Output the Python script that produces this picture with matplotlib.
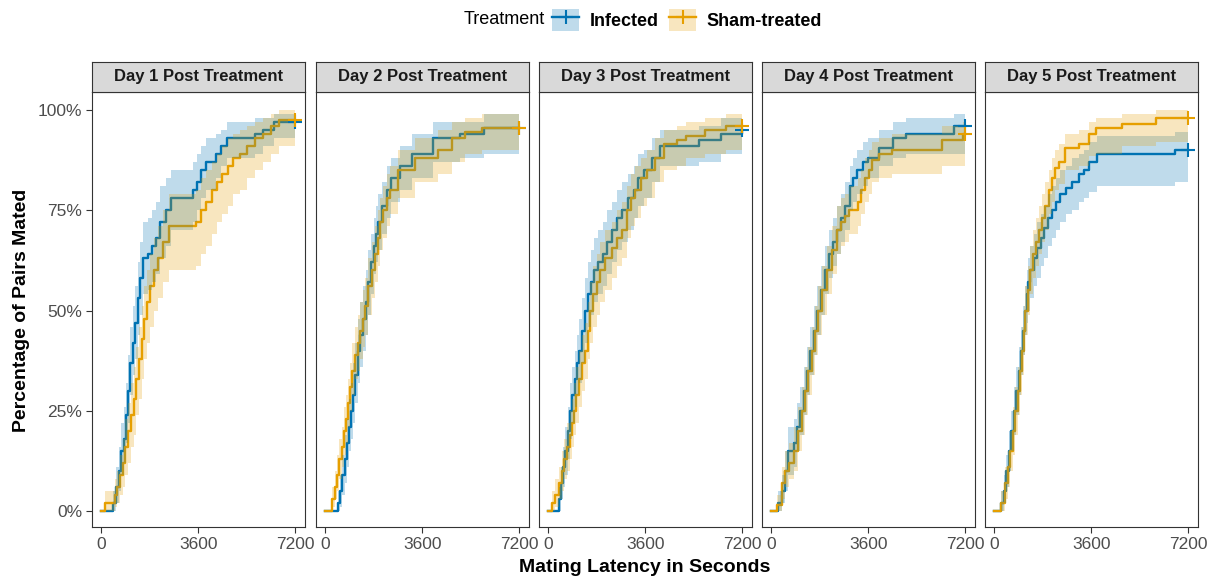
import matplotlib.pyplot as plt
from matplotlib.lines import Line2D
from matplotlib.patches import Patch

plt.rcParams['font.family'] = ['Liberation Sans', 'DejaVu Sans']

# ---- data (seconds, percent mated) ----
days = ["Day 1 Post Treatment", "Day 2 Post Treatment", "Day 3 Post Treatment",
        "Day 4 Post Treatment", "Day 5 Post Treatment"]
groups = ["Infected", "Sham-treated"]
x_ticks = [0, 3600, 7200]
y_ticks = [0, 25, 50, 75, 100]

# Day 1
d1_inf_t = [0, 450, 560, 650, 740, 830, 920, 1000, 1080, 1170, 1260, 1350, 1450, 1560, 1750, 1900,
            2050, 2200, 2400, 2600, 3400, 3550, 3700, 3900, 4250, 4450, 4650, 5700, 6000, 6400, 7200]
d1_inf_v = [0, 2, 6, 10, 15, 18, 24, 30, 37, 42, 47, 53, 58, 63, 64, 66,
            68, 72, 75, 78, 80, 82, 85, 87, 89, 91, 93, 94, 95, 97, 97]
d1_inf_hi = [0, 5, 11, 16, 22, 26, 32, 39, 46, 51, 56, 62, 67, 72, 73, 75,
             77, 81, 83, 85, 87, 89, 91, 93, 94, 95, 97, 98, 98, 99, 99]
d1_inf_lo = [0, 0, 2, 5, 9, 12, 17, 22, 29, 34, 38, 44, 49, 54, 55, 57,
             59, 63, 66, 70, 72, 75, 78, 80, 83, 86, 88, 89, 91, 93, 93]

d1_sham_t = [0, 150, 500, 600, 700, 800, 900, 1000, 1100, 1200, 1300, 1400, 1500, 1600, 1700, 1800,
             1950, 2100, 2300, 2500, 3500, 3700, 3900, 4100, 4300, 4500, 4700, 4900, 5150, 5400, 5700,
             6000, 6300, 6600, 7200]
d1_sham_v = [0, 2, 4, 6, 9, 12, 16, 20, 24, 28, 33, 38, 43, 48, 52, 56,
             60, 63, 67, 71, 72, 75, 77, 80, 82, 84, 86, 88, 89, 91, 93,
             94, 96, 97.5, 97.5]
d1_sham_hi = [0, 5, 8, 10, 14, 18, 23, 27, 32, 36, 41, 46, 51, 56, 60, 64,
              68, 71, 75, 79, 80, 83, 85, 87, 89, 91, 93, 94, 95, 96, 97,
              98, 99, 100, 100]
d1_sham_lo = [0, 0, 1, 2, 4, 6, 9, 12, 16, 19, 24, 28, 33, 38, 42, 46,
              50, 53, 57, 60, 61, 64, 66, 69, 72, 74, 76, 79, 80, 83, 85,
              87, 89, 91, 91]

# Day 2
d2_inf_t = [0, 490, 560, 640, 720, 800, 880, 960, 1040, 1120, 1220, 1300, 1400, 1500,
            1600, 1700, 1800, 1900, 1970, 2100, 2290, 2450, 2780, 3230, 4000, 5000, 5900, 7200]
d2_inf_v = [0, 2, 5, 9, 13, 17, 21, 25, 29, 34, 40, 44, 48, 52,
            57, 62, 66, 69, 72, 76, 80, 83, 86, 89, 93, 94, 95.5, 95.5]
d2_inf_hi = [0, 5, 9, 14, 19, 23, 28, 32, 37, 42, 48, 52, 56, 60,
             65, 69, 73, 76, 79, 82, 86, 88, 91, 94, 97, 97, 99, 99]
d2_inf_lo = [0, 0, 1, 4, 7, 11, 15, 18, 22, 27, 32, 36, 40, 44,
             49, 54, 59, 62, 65, 69, 73, 77, 80, 83, 87, 88, 89, 89]

d2_sham_t = [0, 250, 370, 450, 530, 610, 690, 770, 850, 930, 1010, 1110, 1200, 1300, 1400, 1480,
             1600, 1730, 1850, 1950, 2050, 2150, 2280, 2410, 2700, 3340, 4200, 4700, 5200, 5800, 7200]
d2_sham_v = [0, 3, 6, 9, 13, 16, 20, 23, 27, 31, 35, 39, 42, 45, 48, 51,
             56, 60, 64, 68, 72, 75, 78, 80, 85, 88, 90, 93, 94.5, 95.5, 95.5]
d2_sham_hi = [0, 6, 10, 14, 18, 21, 26, 29, 33, 37, 42, 46, 49, 52, 55, 58,
              63, 67, 71, 75, 78, 81, 84, 86, 90, 93, 95, 97, 98, 99, 99]
d2_sham_lo = [0, 1, 3, 5, 8, 11, 14, 17, 21, 25, 29, 33, 35, 38, 41, 44,
              49, 53, 57, 61, 65, 68, 71, 74, 78, 82, 84, 87, 89, 90, 90]

# Day 3
d3_inf_t = [0, 400, 480, 560, 640, 720, 820, 900, 980, 1060, 1140, 1250, 1370, 1480, 1590, 1700,
            1850, 2050, 2200, 2370, 2550, 2750, 2950, 3180, 3350, 3550, 3850, 4160, 5600, 6400, 7200]
d3_inf_v = [0, 3, 7, 11, 15, 20, 25, 29, 33, 37, 40, 45, 50, 54, 57, 60,
            62, 64, 67, 70, 73, 75, 78, 80, 83, 85, 88, 91, 92.5, 94, 95]
d3_inf_hi = [0, 6, 11, 16, 21, 26, 32, 36, 40, 44, 48, 53, 58, 62, 65, 68,
             70, 72, 75, 77, 80, 82, 84, 86, 89, 90, 93, 95, 96, 98, 99]
d3_inf_lo = [0, 0, 3, 6, 9, 13, 18, 22, 26, 29, 32, 37, 42, 46, 49, 52,
             54, 56, 59, 62, 65, 67, 70, 73, 76, 78, 82, 86, 87, 89, 89]

d3_sham_t = [0, 150, 260, 400, 500, 600, 700, 800, 880, 950, 1050, 1150, 1260, 1370, 1460, 1560,
             1680, 1800, 1930, 2100, 2370, 2550, 2750, 2930, 3080, 3230, 3450, 3670, 3970, 4290,
             4790, 5100, 5800, 6600, 7200]
d3_sham_v = [0, 2, 4, 7, 10, 13, 16, 19, 22, 25, 29, 33, 37, 40, 45, 50,
             54, 57, 60, 63, 65.5, 68, 70, 75, 78, 80, 83, 85, 88, 91.5,
             92.5, 93.5, 95, 96, 96]
d3_sham_hi = [0, 5, 8, 11, 15, 18, 22, 25, 28, 32, 36, 40, 44, 47, 52, 57,
              61, 64, 67, 70, 72, 75, 77, 81, 84, 86, 88, 90, 93, 95,
              96, 97, 98, 99, 99]
d3_sham_lo = [0, 0, 1, 3, 5, 8, 10, 13, 16, 19, 22, 26, 30, 33, 38, 42,
              46, 49, 52, 55, 58, 61, 63, 68, 71, 73, 76, 78, 82, 85,
              86, 88, 89, 90, 90]

# Day 4
d4_inf_t = [0, 260, 400, 520, 630, 830, 950, 1070, 1200, 1320, 1450, 1580, 1700, 1850, 2000,
            2150, 2300, 2440, 2600, 2740, 2930, 3050, 3180, 3400, 3600, 4000, 4530, 5000, 6770, 7200]
d4_inf_v = [0, 2, 5, 10, 15, 17, 21, 25, 30, 35, 40, 45, 50, 55, 60,
            64, 67, 70, 73, 76, 81, 83, 85, 87, 88, 90.5, 93, 94, 96, 96]
d4_inf_hi = [0, 5, 9, 15, 21, 23, 27, 31, 36, 41, 46, 51, 56, 61, 66,
             70, 73, 76, 79, 82, 86, 88, 90, 92, 93, 95, 97, 98, 99, 99]
d4_inf_lo = [0, 0, 2, 5, 9, 11, 15, 19, 24, 29, 34, 39, 44, 49, 54,
             58, 61, 64, 67, 70, 75, 77, 79, 81, 83, 86, 88, 89, 89, 89]

d4_sham_t = [0, 210, 400, 520, 650, 830, 1000, 1130, 1260, 1380, 1510, 1630, 1750, 1900, 2070,
             2250, 2440, 2600, 2740, 2900, 3230, 3350, 3490, 3620, 3740, 4010, 4500, 6350, 7100, 7200]
d4_sham_v = [0, 1.5, 7, 10, 12, 15, 20, 25, 30, 35, 40, 45, 50, 55, 60,
             65, 70, 72, 73.5, 75, 77, 80, 83, 85, 87.5, 89, 90, 92.5, 94, 94]
d4_sham_hi = [0, 4, 11, 15, 17, 21, 26, 31, 36, 41, 46, 51, 56, 61, 66,
              71, 76, 78, 79, 81, 83, 85, 88, 90, 92, 93, 94, 96, 97, 97]
d4_sham_lo = [0, 0, 3, 6, 8, 10, 15, 19, 24, 29, 34, 39, 44, 49, 54,
              59, 64, 66, 67, 69, 71, 74, 77, 79, 82, 83, 84, 86, 86, 86]

# Day 5
d5_inf_t = [0, 250, 360, 450, 540, 630, 730, 820, 910, 990, 1060, 1130, 1200, 1270, 1340, 1470,
            1600, 1720, 1840, 2000, 2150, 2300, 2460, 2680, 2900, 3140, 3330, 3510, 3820, 6720, 7200]
d5_inf_v = [0, 2, 5, 10, 15, 20, 25, 30, 35, 40, 45, 50, 54, 57, 60, 63,
            65.5, 68, 70.5, 73, 75, 77, 79, 80.5, 82, 84, 85, 87, 89, 90, 90]
d5_inf_hi = [0, 5, 9, 14, 20, 25, 31, 36, 41, 46, 51, 56, 60, 63, 66, 69,
             72, 74, 76, 79, 81, 83, 85, 86, 88, 89, 90, 92, 93.5, 94.5, 94.5]
d5_inf_lo = [0, 0, 2, 6, 10, 15, 19, 24, 29, 34, 39, 44, 47, 50, 53, 56,
             58, 61, 63, 66, 68, 70, 72, 74, 75, 77, 78, 79.5, 81, 82, 82]

d5_sham_t = [0, 235, 410, 500, 600, 690, 780, 870, 960, 1040, 1100, 1150, 1250, 1340, 1450,
             1560, 1660, 1780, 1890, 2030, 2150, 2260, 2400, 2640, 3130, 3510, 3760, 4750, 6000, 7200]
d5_sham_v = [0, 2, 7, 11, 15, 20, 25, 30, 35, 40, 45, 50, 55, 60, 64,
             67, 70, 73, 76, 80, 83, 85.5, 87, 90.5, 91.5, 94, 95.5, 96.5, 98, 98]
d5_sham_hi = [0, 5, 11, 15, 20, 26, 31, 36, 41, 46, 51, 56, 61, 66, 70,
              73, 76, 79, 82, 85, 88, 90, 91.5, 94, 95, 97, 98, 99, 100, 100]
d5_sham_lo = [0, 0, 3, 6, 10, 14, 19, 24, 29, 34, 39, 44, 49, 54, 58,
              61, 64, 67, 70, 74, 77, 80, 81.5, 85, 86, 88.5, 89, 91, 92, 92]

panels = [
    [(d1_inf_t, d1_inf_v, d1_inf_lo, d1_inf_hi), (d1_sham_t, d1_sham_v, d1_sham_lo, d1_sham_hi)],
    [(d2_inf_t, d2_inf_v, d2_inf_lo, d2_inf_hi), (d2_sham_t, d2_sham_v, d2_sham_lo, d2_sham_hi)],
    [(d3_inf_t, d3_inf_v, d3_inf_lo, d3_inf_hi), (d3_sham_t, d3_sham_v, d3_sham_lo, d3_sham_hi)],
    [(d4_inf_t, d4_inf_v, d4_inf_lo, d4_inf_hi), (d4_sham_t, d4_sham_v, d4_sham_lo, d4_sham_hi)],
    [(d5_inf_t, d5_inf_v, d5_inf_lo, d5_inf_hi), (d5_sham_t, d5_sham_v, d5_sham_lo, d5_sham_hi)],
]

colors = ['#0072B2', '#E69F00']
W, H = 1214, 580

fig = plt.figure(figsize=(W / 100, H / 100), dpi=100)

lefts = [92, 316, 539, 762, 985]
pw = 213
for i, left in enumerate(lefts):
    ax = fig.add_axes([left / W, (H - 527) / H, pw / W, 435 / H])
    for (t, v, lo, hi), col in zip(panels[i], colors):
        ax.step(t, v, where='post', color=col, lw=1.7, zorder=2)
        ax.fill_between(t, lo, hi, step='post', color=col, alpha=0.25, lw=0, zorder=3)
        ax.plot(t[-1], v[-1], marker='+', ms=10, mew=1.5, color=col, zorder=4)
    ax.set_xlim(-340, 7560)
    ax.set_ylim(-4.0, 104.5)
    ax.set_xticks(x_ticks)
    ax.set_xticklabels([str(x) for x in x_ticks])
    if i == 0:
        ax.set_yticks(y_ticks)
        ax.set_yticklabels([f"{y}%" for y in y_ticks])
    else:
        ax.set_yticks([])
    ax.tick_params(length=4, width=0.8, color='#333333', labelcolor='#4D4D4D',
                   labelsize=12.5, pad=3)
    for sp in ax.spines.values():
        sp.set_color('#333333')
        sp.set_linewidth(0.8)

    # facet strip
    st = fig.add_axes([left / W, (H - 92) / H, pw / W, 30 / H])
    st.set_facecolor('#D9D9D9')
    st.set_xticks([])
    st.set_yticks([])
    for sp in st.spines.values():
        sp.set_color('#333333')
        sp.set_linewidth(0.8)
    st.text(0.5, 0.5, days[i], ha='center', va='center', fontsize=12,
            fontweight='bold', color='#1A1A1A', transform=st.transAxes)

fig.text(22 / W, 1 - 310 / H, "Percentage of Pairs Mated", rotation=90,
         ha='center', va='center', fontsize=14, fontweight='bold')
fig.text(645 / W, 1 - 568 / H, "Mating Latency in Seconds",
         ha='center', va='center', fontsize=14, fontweight='bold')

# legend
handles = []
for col in colors:
    box = Patch(facecolor=col, alpha=0.25, edgecolor='none')
    ln = Line2D([], [], color=col, lw=1.7, marker='+', ms=10, mew=1.5)
    handles.append((box, ln))
fig.text(545 / W, 1 - 20 / H, "Treatment", ha='right', va='center', fontsize=13)
fig.legend(handles=handles, labels=groups, loc='center', bbox_to_anchor=(687 / W, 1 - 20 / H),
           ncol=2, frameon=False, prop={'weight': 'bold', 'size': 13},
           handlelength=1.5, handleheight=1.5, handletextpad=0.55, columnspacing=0.6,
           borderpad=0, borderaxespad=0)

fig.savefig("out.png", dpi=100)
